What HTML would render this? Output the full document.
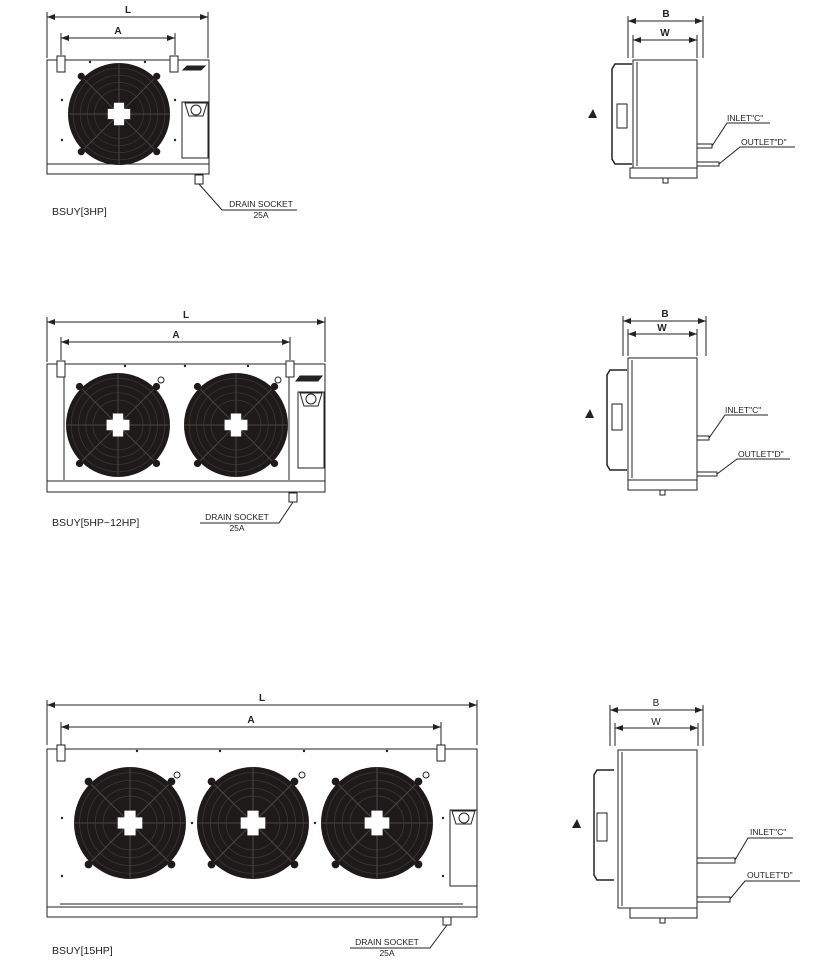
<!DOCTYPE html>
<html><head><meta charset="utf-8"><style>
html,body{margin:0;padding:0;background:#fff}
svg{display:block}
text{font-family:"Liberation Sans",sans-serif;fill:#222}
</style></head><body>
<svg width="828" height="966" viewBox="0 0 828 966" xmlns="http://www.w3.org/2000/svg">
<defs>
<marker id="ar" markerWidth="8" markerHeight="6" refX="8" refY="3" orient="auto-start-reverse" markerUnits="userSpaceOnUse"><path d="M0,0 L8,3 L0,6 z" fill="#222"/></marker>
<g id="fan">
<circle r="50" fill="#1e1a1a"/>
<circle r="45" fill="none" stroke="#3a3535" stroke-width="0.8"/>
<circle r="38" fill="none" stroke="#3a3535" stroke-width="0.8"/>
<circle r="31" fill="none" stroke="#3a3535" stroke-width="0.8"/>
<circle r="24" fill="none" stroke="#3a3535" stroke-width="0.8"/>
<g stroke="#4a4545" stroke-width="1">
<line x1="0" y1="-50" x2="0" y2="50"/><line x1="-50" y1="0" x2="50" y2="0"/>
<line x1="-35" y1="-35" x2="35" y2="35"/><line x1="-35" y1="35" x2="35" y2="-35"/>
</g>
<circle cx="-37" cy="-37" r="3.5" fill="#1e1a1a"/><circle cx="37" cy="-37" r="3.5" fill="#1e1a1a"/>
<circle cx="-37" cy="37" r="3.5" fill="#1e1a1a"/><circle cx="37" cy="37" r="3.5" fill="#1e1a1a"/>
<path d="M-5,-11 h10 v6 h6 v10 h-6 v6 h-10 v-6 h-6 v-10 h6 z" fill="#fff"/>
</g>
</defs>
<g fill="none" stroke="#222" stroke-width="1">
<!-- ===== Unit 1 ===== -->
<line x1="47" y1="17" x2="208" y2="17" marker-start="url(#ar)" marker-end="url(#ar)"/>
<line x1="47" y1="12" x2="47" y2="58"/><line x1="208" y1="12" x2="208" y2="58"/>
<line x1="61" y1="38" x2="175" y2="38" marker-start="url(#ar)" marker-end="url(#ar)"/>
<line x1="61" y1="33" x2="61" y2="55"/><line x1="175" y1="33" x2="175" y2="55"/>
<rect x="47" y="60" width="162" height="114"/>
<rect x="47" y="164" width="162" height="10"/>
<rect x="57" y="56" width="8" height="16" fill="#fff"/><rect x="170" y="56" width="8" height="16" fill="#fff"/>
<rect x="182" y="102" width="26" height="56"/>
<circle cx="196" cy="110" r="5"/>
<path d="M185,103 h22 l-4,13 h-14 z"/>
<path d="M183,70 l4,-4 h18 l-4,4 z" fill="#222"/>
<rect x="195" y="175" width="8" height="9"/>
<polyline points="199,184 222,210 297,210"/>
<!-- side 1 -->
<line x1="628" y1="21" x2="703" y2="21" marker-start="url(#ar)" marker-end="url(#ar)"/>
<line x1="628" y1="16" x2="628" y2="58"/><line x1="703" y1="16" x2="703" y2="58"/>
<line x1="633" y1="40" x2="697" y2="40" marker-start="url(#ar)" marker-end="url(#ar)"/>
<line x1="633" y1="35" x2="633" y2="58"/><line x1="697" y1="35" x2="697" y2="58"/>
<rect x="633" y="60" width="64" height="108"/>
<line x1="637" y1="62" x2="637" y2="166"/>
<rect x="630" y="168" width="67" height="10"/>
<path d="M632,64 h-17 l-3,5 v90 l3,5 h17" stroke-width="1.5"/>
<rect x="617" y="104" width="10" height="24" fill="#fff"/>
<rect x="663" y="178" width="5" height="5"/>
<rect x="697" y="144" width="15" height="4"/>
<polyline points="712,146 727,123 770,123"/>
<rect x="697" y="162" width="22" height="4"/>
<polyline points="719,164 740,147 795,147"/>
<!-- ===== Unit 2 ===== -->
<line x1="47" y1="322" x2="325" y2="322" marker-start="url(#ar)" marker-end="url(#ar)"/>
<line x1="47" y1="317" x2="47" y2="362"/><line x1="325" y1="317" x2="325" y2="362"/>
<line x1="61" y1="342" x2="290" y2="342" marker-start="url(#ar)" marker-end="url(#ar)"/>
<line x1="61" y1="337" x2="61" y2="360"/><line x1="290" y1="337" x2="290" y2="360"/>
<rect x="47" y="364" width="278" height="128"/>
<rect x="47" y="481" width="278" height="11"/>
<line x1="64" y1="366" x2="64" y2="480"/><line x1="289" y1="366" x2="289" y2="480"/>
<rect x="57" y="361" width="8" height="16" fill="#fff"/><rect x="286" y="361" width="8" height="16" fill="#fff"/>
<rect x="298" y="392" width="26" height="76"/>
<circle cx="311" cy="399" r="5"/><path d="M300,393 h22 l-4,13 h-14 z"/>
<path d="M296,381 l4,-5 h22 l-4,5 z" fill="#222"/>
<circle cx="161" cy="380" r="3"/><circle cx="278" cy="380" r="3"/>
<rect x="289" y="493" width="8" height="9"/>
<polyline points="293,502 279,523 200,523"/>
<!-- side 2 -->
<line x1="623" y1="321" x2="706" y2="321" marker-start="url(#ar)" marker-end="url(#ar)"/>
<line x1="623" y1="316" x2="623" y2="356"/><line x1="706" y1="316" x2="706" y2="356"/>
<line x1="628" y1="334" x2="697" y2="334" marker-start="url(#ar)" marker-end="url(#ar)"/>
<line x1="628" y1="329" x2="628" y2="356"/><line x1="697" y1="329" x2="697" y2="356"/>
<rect x="628" y="358" width="69" height="122"/>
<line x1="632" y1="360" x2="632" y2="478"/>
<rect x="628" y="480" width="69" height="10"/>
<path d="M627,370 h-17 l-3,5 v90 l3,5 h17" stroke-width="1.5"/>
<rect x="612" y="404" width="10" height="26" fill="#fff"/>
<rect x="660" y="490" width="5" height="5"/>
<rect x="697" y="436" width="12" height="4"/>
<polyline points="709,438 725,415 768,415"/>
<rect x="697" y="472" width="20" height="4"/>
<polyline points="717,474 737,459 790,459"/>
<!-- ===== Unit 3 ===== -->
<line x1="47" y1="705" x2="477" y2="705" marker-start="url(#ar)" marker-end="url(#ar)"/>
<line x1="47" y1="700" x2="47" y2="745"/><line x1="477" y1="700" x2="477" y2="745"/>
<line x1="61" y1="727" x2="441" y2="727" marker-start="url(#ar)" marker-end="url(#ar)"/>
<line x1="61" y1="722" x2="61" y2="745"/><line x1="441" y1="722" x2="441" y2="745"/>
<rect x="47" y="749" width="430" height="168"/>
<rect x="47" y="907" width="430" height="10"/>
<line x1="60" y1="904" x2="463" y2="904"/>
<rect x="57" y="745" width="8" height="16" fill="#fff"/><rect x="437" y="745" width="8" height="16" fill="#fff"/>
<rect x="450" y="810" width="27" height="76"/>
<circle cx="464" cy="818" r="5"/><path d="M452,811 h23 l-4,13 h-15 z"/>
<circle cx="177" cy="775" r="3"/><circle cx="302" cy="775" r="3"/><circle cx="426" cy="775" r="3"/>
<rect x="443" y="917" width="8" height="8"/>
<polyline points="447,925 430,948 350,948"/>
<!-- side 3 -->
<line x1="610" y1="710" x2="703" y2="710" marker-start="url(#ar)" marker-end="url(#ar)"/>
<line x1="610" y1="705" x2="610" y2="746"/><line x1="703" y1="705" x2="703" y2="746"/>
<line x1="615" y1="728" x2="698" y2="728" marker-start="url(#ar)" marker-end="url(#ar)"/>
<line x1="615" y1="723" x2="615" y2="746"/><line x1="698" y1="723" x2="698" y2="746"/>
<rect x="618" y="750" width="79" height="158"/>
<line x1="622" y1="752" x2="622" y2="906"/>
<rect x="630" y="908" width="67" height="10"/>
<path d="M614,770 h-17 l-3,5 v100 l3,5 h17" stroke-width="1.5"/>
<rect x="597" y="813" width="10" height="28" fill="#fff"/>
<rect x="660" y="918" width="5" height="5"/>
<rect x="697" y="858" width="38" height="5"/>
<polyline points="735,860 748,838 793,838"/>
<path d="M697,897 h33 v5 h-33"/>
<polyline points="730,899 745,881 800,881"/>
</g>
<!-- panel dots -->
<g fill="#222">
<circle cx="90" cy="62" r="1.2"/><circle cx="145" cy="62" r="1.2"/><circle cx="62" cy="100" r="1.2"/><circle cx="62" cy="140" r="1.2"/><circle cx="175" cy="100" r="1.2"/><circle cx="175" cy="140" r="1.2"/>
<circle cx="125" cy="366" r="1.2"/><circle cx="185" cy="366" r="1.2"/><circle cx="248" cy="366" r="1.2"/>
<circle cx="137" cy="751" r="1.2"/><circle cx="220" cy="751" r="1.2"/><circle cx="304" cy="751" r="1.2"/><circle cx="387" cy="751" r="1.2"/><circle cx="62" cy="818" r="1.2"/><circle cx="62" cy="876" r="1.2"/><circle cx="192" cy="823" r="1.2"/><circle cx="315" cy="823" r="1.2"/><circle cx="443" cy="818" r="1.2"/><circle cx="443" cy="876" r="1.2"/>
</g>
<!-- fans -->
<use href="#fan" transform="translate(119,114) scale(1.02)"/>
<use href="#fan" transform="translate(118,425) scale(1.04)"/>
<use href="#fan" transform="translate(236,425) scale(1.04)"/>
<use href="#fan" transform="translate(130,823) scale(1.12)"/>
<use href="#fan" transform="translate(253,823) scale(1.12)"/>
<use href="#fan" transform="translate(377,823) scale(1.12)"/>
<!-- small fan icons on side views -->
<g fill="#222">
<path d="M588,118 l5,-9 l4,9 z"/><path d="M585,418 l5,-9 l4,9 z"/><path d="M572,828 l5,-9 l4,9 z"/>
</g>
<!-- labels -->
<g font-size="10" font-weight="bold" text-anchor="middle">
<text x="128" y="13">L</text><text x="118" y="34">A</text>
<text x="186" y="318">L</text><text x="176" y="338">A</text>
<text x="262" y="701">L</text><text x="251" y="723">A</text>
<text x="666" y="17">B</text><text x="665" y="36">W</text>
<text x="665" y="317">B</text><text x="662" y="331">W</text>
</g>
<g font-size="10" text-anchor="middle">
<text x="656" y="706">B</text><text x="656" y="725">W</text>
</g>
<g font-size="10.5">
<text x="52" y="215">BSUY[3HP]</text>
<text x="52" y="526">BSUY[5HP~12HP]</text>
<text x="52" y="954">BSUY[15HP]</text>
</g>
<g font-size="8.5" fill="#444" text-anchor="middle">
<text x="261" y="207">DRAIN SOCKET</text><text x="261" y="218">25A</text>
<text x="237" y="520">DRAIN SOCKET</text><text x="237" y="531">25A</text>
<text x="387" y="945">DRAIN SOCKET</text><text x="387" y="956">25A</text>
</g>
<g font-size="8.5" fill="#444">
<text x="727" y="121">INLET"C"</text><text x="741" y="145">OUTLET"D"</text>
<text x="725" y="413">INLET"C"</text><text x="738" y="457">OUTLET"D"</text>
<text x="750" y="835">INLET"C"</text><text x="747" y="878">OUTLET"D"</text>
</g>
</svg>
</body></html>
